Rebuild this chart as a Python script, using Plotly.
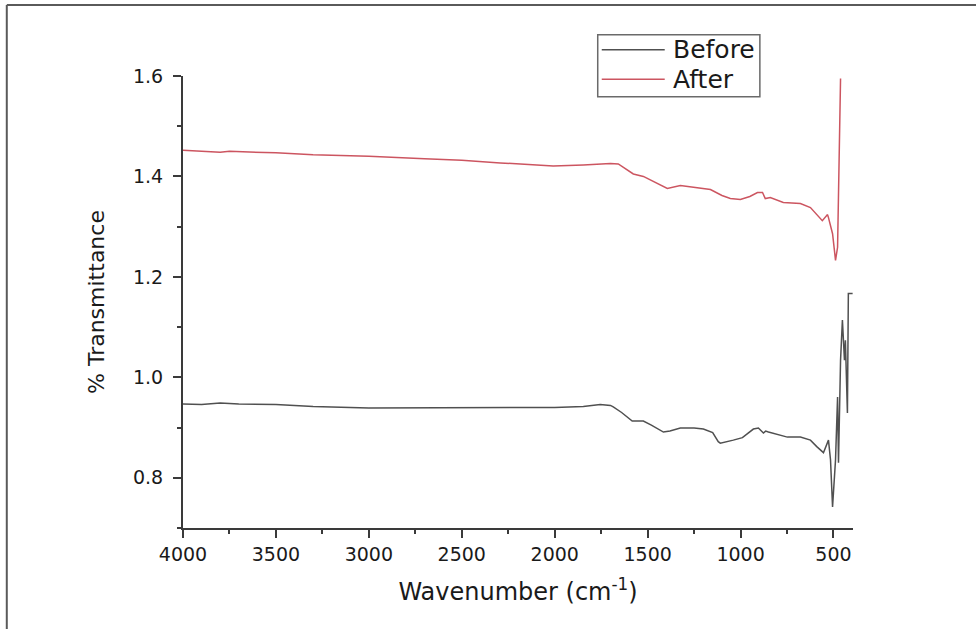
import plotly.graph_objects as go

# Wavenumber (cm-1) and transmittance values
wn_before = [4000, 3900, 3800, 3700, 3500, 3300, 3000, 2700, 2500, 2293, 2000, 1846, 1755, 1700,
             1685, 1640, 1583, 1523, 1480, 1415, 1380, 1324, 1250, 1200, 1150, 1120, 1109, 1039,
             990, 931, 904, 877, 865, 850, 800, 748, 678, 624, 590, 554, 527, 516, 505, 489, 478,
             473, 462, 452, 441, 436, 425, 420, 397]
t_before = [0.947, 0.946, 0.949, 0.947, 0.946, 0.942, 0.939, 0.939, 0.939, 0.939, 0.940, 0.942, 0.946, 0.944,
            0.941, 0.930, 0.913, 0.913, 0.905, 0.891, 0.893, 0.899, 0.899, 0.897, 0.890, 0.872, 0.869, 0.875,
            0.880, 0.897, 0.899, 0.889, 0.893, 0.891, 0.886, 0.881, 0.881, 0.875, 0.862, 0.850, 0.875, 0.836,
            0.742, 0.836, 0.961, 0.830, 1.034, 1.114, 1.034, 1.074, 0.929, 1.167, 1.167]

wn_after = [4000, 3900, 3800, 3750, 3500, 3300, 3000, 2700, 2500, 2293, 2008, 1846, 1700, 1658, 1620,
            1577, 1523, 1460, 1394, 1324, 1250, 1162, 1100, 1055, 1001, 950, 909, 882, 867, 840, 770,
            678, 624, 590, 560, 532, 527, 505, 489, 478, 462]
t_after = [1.452, 1.450, 1.448, 1.450, 1.447, 1.443, 1.440, 1.435, 1.432, 1.427, 1.421, 1.423, 1.426, 1.425, 1.415,
           1.405, 1.400, 1.388, 1.376, 1.382, 1.378, 1.374, 1.362, 1.356, 1.354, 1.360, 1.368, 1.368, 1.356, 1.358, 1.348,
           1.346, 1.338, 1.325, 1.312, 1.324, 1.318, 1.286, 1.233, 1.259, 1.595]

series_names = ["Before", "After"]
series_colors = ["#505050", "#cc5560"]

x_ticks = [4000, 3500, 3000, 2500, 2000, 1500, 1000, 500]
y_ticks = [0.8, 1.0, 1.2, 1.4, 1.6]

FONT = "DejaVu Sans, Verdana, sans-serif"
AX = "#3a3a3a"

fig = go.Figure()
fig.add_trace(go.Scatter(x=wn_before, y=t_before, mode="lines", name=series_names[0],
                         line=dict(color=series_colors[0], width=1.5), showlegend=False))
fig.add_trace(go.Scatter(x=wn_after, y=t_after, mode="lines", name=series_names[1],
                         line=dict(color=series_colors[1], width=1.5), showlegend=False))

fig.update_layout(
    width=976, height=629,
    margin=dict(l=183, r=123, t=76, b=101, autoexpand=False),
    paper_bgcolor="white", plot_bgcolor="white",
    font=dict(family=FONT, color="#1a1a1a"),
    showlegend=False,
    xaxis=dict(range=[4000, 395], tickmode="array", tickvals=x_ticks,
               ticktext=[str(v) for v in x_ticks], ticks="outside", ticklen=8, tickwidth=2,
               tickcolor=AX, showline=True, linecolor=AX, linewidth=2, showgrid=False,
               zeroline=False, tickfont=dict(size=19),
               minor=dict(ticks="outside", ticklen=4, tickwidth=2, tickcolor=AX, dtick=250,
                          tick0=4000, showgrid=False),
               title=dict(text="Wavenumber (cm<sup>-1</sup>)", font=dict(size=24), standoff=19)),
    yaxis=dict(range=[0.7, 1.6], tickmode="array", tickvals=y_ticks,
               ticktext=["0.8", "1.0", "1.2", "1.4", "1.6"], ticks="outside", ticklen=8,
               tickwidth=2, tickcolor=AX, showline=True, linecolor=AX, linewidth=2,
               showgrid=False, zeroline=False, tickfont=dict(size=19), ticklabelstandoff=6,
               minor=dict(ticks="outside", ticklen=4, tickwidth=2, tickcolor=AX, dtick=0.1,
                          tick0=0.7, showgrid=False),
               title=dict(text="% Transmittance", font=dict(size=22), standoff=22)),
)

# legend box drawn in paper coordinates
fig.add_shape(type="rect", xref="paper", yref="paper", x0=0.619, x1=0.861, y0=0.954, y1=1.091,
              line=dict(color="#6a6a6a", width=1.5), fillcolor="white", layer="above")
leg_y = [1.058, 0.993]
for name, color, yy in zip(series_names, series_colors, leg_y):
    fig.add_shape(type="line", xref="paper", yref="paper", x0=0.625, x1=0.719, y0=yy, y1=yy,
                  line=dict(color=color, width=1.5), layer="above")
    fig.add_annotation(xref="paper", yref="paper", x=0.729, y=yy, text=name, showarrow=False,
                       xanchor="left", yanchor="middle", font=dict(size=25, family=FONT, color="#1a1a1a"))

# outer frame (top and left edges visible in the reference)
fig.add_shape(type="line", xref="paper", yref="paper", x0=-0.263, x1=1.3, y0=1.157, y1=1.157,
              line=dict(color="#5a5a5a", width=2))
fig.add_shape(type="line", xref="paper", yref="paper", x0=-0.263, x1=-0.263, y0=1.157, y1=-0.3,
              line=dict(color="#5a5a5a", width=2))

fig.write_html("out.html", config={"displayModeBar": False},
               post_script="document.body.style.margin='0px';")
